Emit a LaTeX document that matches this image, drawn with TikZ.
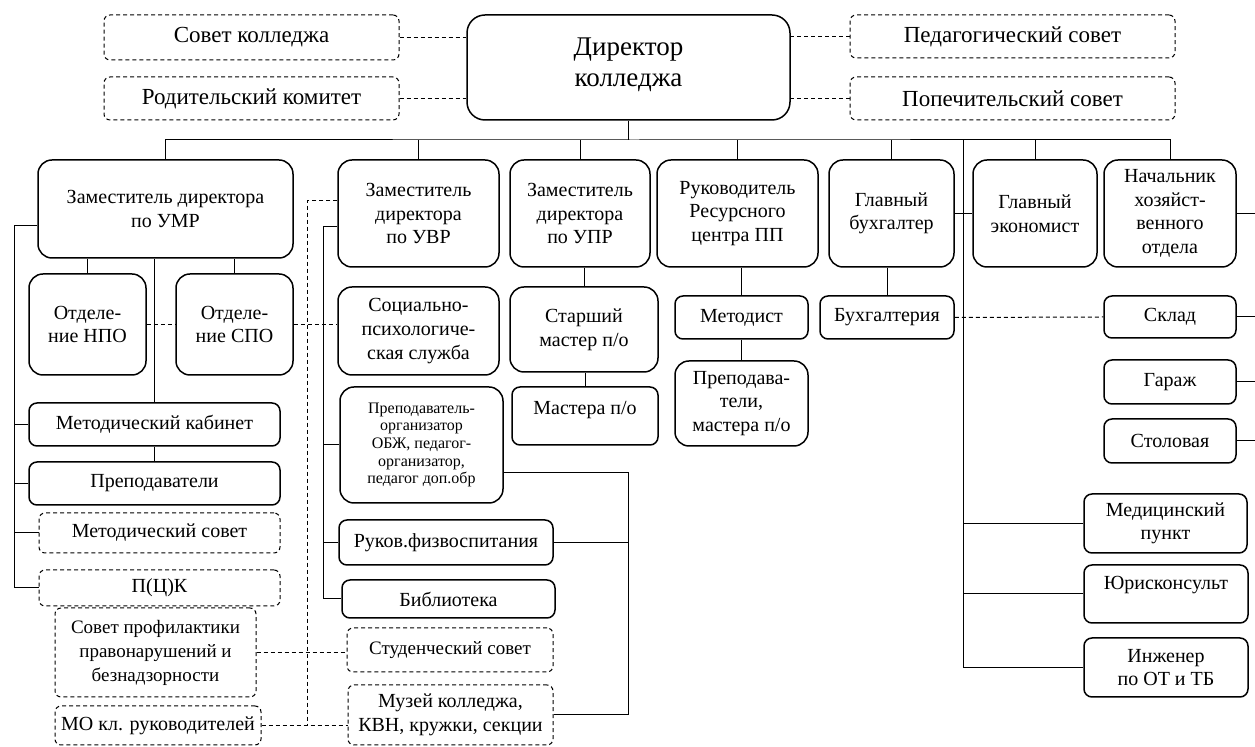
\documentclass[tikz,border=0pt]{standalone}
\usepackage{fontspec}
\setmainfont{Liberation Serif}
\usepackage{tikz}
\newcommand{\orgbox}[7][unit]{\node[#1, minimum width=#5*0.5pt, minimum height=#6*0.5pt] (#2) at (#3,#4) {#7};}
\newcommand{\drawdashed}{\draw[dashline]}
\tikzset{
  dashline/.style={line width=0.5pt, dash pattern=on 2pt off 1.5pt},
  unit/.style={draw, line width=0.75pt, rounded corners=7pt, align=center, inner sep=1pt, font=\fontsize{10}{11.8}\selectfont},
  smallunit/.style={unit, rounded corners=4pt},
  council/.style={unit, dashline, rounded corners=3pt},
  toptext/.style={font=\fontsize{11.5}{14}\selectfont},
  midtext/.style={font=\fontsize{9.5}{12}\selectfont},
  tinytext/.style={font=\fontsize{8}{8.8}\selectfont},
}

\begin{document}
\begin{tikzpicture}[x=0.5pt, y=-0.5pt, line width=0.5pt]
\useasboundingbox (0,0) rectangle (1255,747);
\orgbox[council, toptext]{sovet}{251.5}{37.5}{295}{45}{Совет колледжа}
\orgbox[council, toptext]{rodkom}{251.5}{98.5}{295}{43}{Родительский комитет}
\orgbox[unit, rounded corners=9pt, font=\fontsize{13.5}{15.5}\selectfont]{dir}{628.5}{67.5}{323}{105}{Директор\\колледжа\\[-10pt]\mbox{}}
\orgbox[council, toptext]{pedsovet}{1012.5}{36.5}{325}{43}{Педагогический совет}
\orgbox[council, toptext]{popsovet}{1012.5}{98.5}{325}{43}{Попечительский совет}

\orgbox{umr}{165.5}{209}{255}{98}{Заместитель директора\\по УМР}
\orgbox{uvr}{418.5}{213.5}{161}{107}{Заместитель\\директора\\по УВР}
\orgbox{upr}{580}{213.5}{140}{107}{Заместитель\\директора\\по УПР}
\orgbox{rc}{737.5}{213.5}{161}{107}{Руководитель\\Ресурсного\\центра ПП}
\orgbox{gb}{891.5}{213.5}{125}{107}{Главный\\бухгалтер}
\orgbox{ge}{1035}{213.5}{124}{107}{Главный\\экономист}
\orgbox{nho}{1170}{213.5}{132}{107}{Начальник\\хозяйст-\\венного\\отдела}

\orgbox{npo}{87.5}{324.5}{117}{101}{Отделе-\\ние НПО}
\orgbox{spo}{234.5}{324.5}{117}{101}{Отделе-\\ние СПО}
\orgbox[smallunit]{metkab}{154.5}{424.5}{251}{43}{Методический кабинет}
\orgbox[smallunit]{prep}{154.5}{483.5}{251}{43}{Преподаватели}
\orgbox[council]{metsov}{159.5}{533}{241}{40}{Методический совет}
\orgbox[council]{pck}{159.5}{588}{241}{36}{П(Ц)К}
\orgbox[council, midtext]{profil}{155.5}{652.5}{201}{89}{Совет профилактики\\правонарушений и\\безнадзорности}
\orgbox[council]{mo}{158}{725.5}{206}{39}{МО кл. руководителей}

\orgbox{soc}{418.5}{331}{161}{88}{Социально-\\психологиче-\\ская служба}
\orgbox[unit, tinytext]{porg}{421.5}{445}{163}{116}{Преподаватель-\\организатор\\ОБЖ, педагог-\\организатор,\\педагог доп.обр}
\orgbox[smallunit]{fiz}{446}{542.5}{214}{45}{Руков.физвоспитания}
\orgbox[smallunit]{bib}{448.5}{599}{213}{38}{Библиотека}
\orgbox[council, midtext]{stud}{450}{650}{206}{44}{Студенческий совет}
\orgbox[council]{muz}{450.5}{715}{205}{60}{Музей колледжа,\\КВН, кружки, секции}

\orgbox{stm}{584}{329.5}{148}{85}{Старший\\мастер п/о}
\orgbox[smallunit, text depth=8pt]{mastera}{585}{416}{146}{58}{Мастера п/о}
\orgbox[smallunit]{metodist}{741.5}{317.5}{133}{43}{Методист}
\orgbox{pm}{741.5}{403.5}{133}{85}{Преподава-\\тели,\\мастера п/о}
\orgbox[smallunit]{buh}{887}{317.5}{134}{43}{Бухгалтерия}

\orgbox[smallunit]{sklad}{1170}{317}{132}{42}{Склад}
\orgbox[smallunit]{garage}{1170}{382}{132}{44}{Гараж}
\orgbox[smallunit]{stol}{1170}{441}{132}{44}{Столовая}
\orgbox[smallunit]{med}{1165.5}{523.5}{163}{59}{Медицинский\\пункт}
\orgbox[smallunit, text depth=11pt]{jur}{1166}{594}{164}{58}{Юрисконсульт}
\orgbox[smallunit]{ing}{1166}{667.5}{164}{59}{Инженер\\по ОТ и ТБ}

\drawdashed (sovet.east) -- (sovet.east -| dir.west);
\drawdashed (rodkom.east) -- (rodkom.east -| dir.west);
\drawdashed (pedsovet.west) -- (pedsovet.west -| dir.east);
\drawdashed (popsovet.west) -- (popsovet.west -| dir.east);

\coordinate (bus) at (634,140);
\draw (dir.south) -- (dir.south |- bus);
\draw (umr.north) |- (bus) -| (nho.north);
\foreach \n in {uvr,upr,rc,gb,ge} \draw (\n.north) -- (\n.north |- bus);
\coordinate (rbus) at (963,140);
\draw (rbus) |- (ing.west);
\foreach \n in {med,jur} \draw (\n.west) -- (\n.west -| rbus);
\draw (gb.east) -- (ge.west);

\foreach \n in {npo,spo,metkab} \draw (\n.north) -- (\n.north |- umr.south);
\draw (metkab) -- (prep);
\coordinate (lbus) at (14,226);
\draw (umr.west |- lbus) -- (lbus) |- (pck.west);
\foreach \n in {metkab,prep,metsov} \draw (\n.west) -- (\n.west -| lbus);
\drawdashed (npo.east) -- (spo.west);
\drawdashed (spo.east) -- (spo.east -| soc.west);

\coordinate (vbus) at (323,227);
\draw (uvr.west |- vbus) -- (vbus) |- (bib.west);
\foreach \n in {porg,fiz} \draw (\n.west) -- (\n.west -| vbus);
\coordinate (dbus) at (307,201);
\drawdashed (uvr.west |- dbus) -- (dbus) -- (dbus |- mo.east);
\drawdashed (mo.east) -- (mo.east -| muz.west);
\drawdashed (profil.east) -- (profil.east -| stud.west);
\coordinate (rloop) at (628,473);
\draw (porg.east |- rloop) -- (rloop) |- (muz.east);
\draw (fiz.east) -- (fiz.east -| rloop);

\draw (stm.north) -- (stm.north |- upr.south);
\draw (mastera.north) -- (mastera.north |- stm.south);
\draw (metodist.north) -- (metodist.north |- rc.south);
\draw (metodist) -- (pm);
\draw (buh.north) -- (buh.north |- gb.south);
\drawdashed (buh.east) -- (sklad.west);
\coordinate (redge) at (1255,140);
\foreach \n in {nho,sklad,garage,stol} \draw (\n.east) -- (\n.east -| redge);
\end{tikzpicture}
\end{document}
